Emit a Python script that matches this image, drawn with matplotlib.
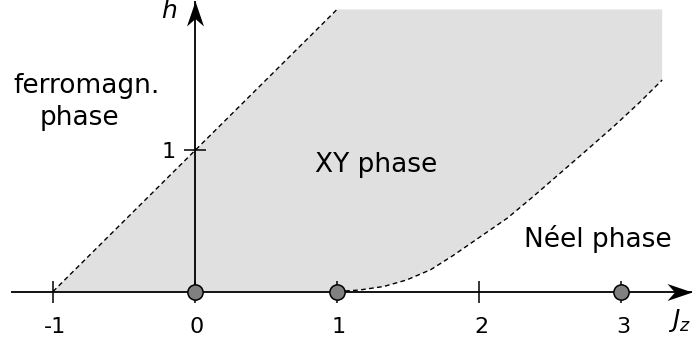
#!/usr/bin/env python3

import numpy
from matplotlib import pyplot
from matplotlib.path import Path


# boundary of the fully polarised (ferromagnetic) phase, h = 1 + Jz
SAT_JZ = [-1.0, 1.0]
SAT_H = [0.0, 2.0]
# upper edge of the shaded XY region
TOP_H = 2.0
TOP_JZ_END = 3.29

# lower critical field, boundary towards the Neel phase
NEEL_JZ = [1.0, 1.16, 1.33, 1.49, 1.66, 1.82, 2.01, 2.20, 2.38, 2.57, 2.76, 2.95, 3.13, 3.29]
NEEL_H = [0.0, 0.011, 0.036, 0.082, 0.155, 0.257, 0.389, 0.521, 0.672, 0.838, 1.004, 1.172, 1.340, 1.50]

# special points on the h = 0 line
DOT_JZ = [0.0, 1.0, 3.0]

XTICKS = [-1, 0, 1, 2, 3]
XTICK_LABELS = ["-1", "0", "1", "2", "3"]
YTICKS = [1]
YTICK_LABELS = ["1"]

XLIM = (-1.373, 3.507)
YLIM = (-0.379, 2.067)
X_AXIS = (-1.296, 3.50)
Y_AXIS = (0.0, 2.06)

FILL_COLOR = "#e0e0e0"
DOT_COLOR = "#808080"


def arrow_marker(direction):
	# tip sits on the marker origin, so the marker is anchored at the tip
	verts = numpy.array([(0, 0), (-1, 0.34), (-0.7, 0), (-1, -0.34), (0, 0)])
	if direction == "up":
		verts = verts[:, ::-1]
	return Path(verts, closed = True)


def draw_axes(ax):
	ax.plot(X_AXIS, [0, 0], color = "black", linewidth = 1.3, zorder = 3,
		solid_capstyle = "butt")
	ax.plot([0, 0], Y_AXIS, color = "black", linewidth = 1.3, zorder = 3,
		solid_capstyle = "butt")
	ax.plot([X_AXIS[1]], [0], marker = arrow_marker("right"), markersize = 36,
		color = "black", markeredgewidth = 0, zorder = 4)
	ax.plot([0], [Y_AXIS[1]], marker = arrow_marker("up"), markersize = 36,
		color = "black", markeredgewidth = 0, zorder = 4)
	# ticks
	ax.plot(XTICKS, numpy.zeros(len(XTICKS)), linestyle = "none", marker = "|",
		markersize = 16, markeredgewidth = 1.1, color = "black", zorder = 3)
	ax.plot(numpy.zeros(len(YTICKS)), YTICKS, linestyle = "none", marker = "_",
		markersize = 16, markeredgewidth = 1.1, color = "black", zorder = 3)
	for x, lab in zip(XTICKS, XTICK_LABELS):
		ax.text(x + 0.014, -0.294, lab, fontsize = 16, ha = "center", va = "baseline")
	for y, lab in zip(YTICKS, YTICK_LABELS):
		ax.text(-0.134, y - 0.053, lab, fontsize = 16, ha = "right", va = "baseline")
	ax.text(-0.183, 1.94, "h", fontsize = 18, style = "italic", ha = "center",
		va = "baseline")
	ax.text(3.331, -0.252, "$J_z$", fontsize = 18, ha = "left", va = "baseline")
	return


def draw_phases(ax):
	# XY region: between the Neel boundary and the saturation line
	px = list(SAT_JZ) + [TOP_JZ_END] + NEEL_JZ[::-1]
	py = list(SAT_H) + [TOP_H] + NEEL_H[::-1]
	ax.fill(px, py, facecolor = FILL_COLOR, edgecolor = "none", zorder = 1)
	dash = dict(color = "black", linewidth = 1.0, dashes = (3.4, 2.4), zorder = 2)
	ax.plot(SAT_JZ, SAT_H, **dash)
	ax.plot(NEEL_JZ, NEEL_H, **dash)
	ax.plot(DOT_JZ, numpy.zeros(len(DOT_JZ)), linestyle = "none", marker = "o",
		markersize = 11, markerfacecolor = DOT_COLOR, markeredgecolor = "black",
		markeredgewidth = 1.1, zorder = 5)
	# phase names
	ax.text(-0.764, 1.411, "ferromagn.", fontsize = 19, ha = "center", va = "baseline")
	ax.text(-0.817, 1.18, "phase", fontsize = 19, ha = "center", va = "baseline")
	ax.text(1.275, 0.844, "XY phase", fontsize = 19, ha = "center", va = "baseline")
	ax.text(2.838, 0.318, "N\u00e9el phase", fontsize = 19, ha = "center", va = "baseline")
	return


def hdl_plot():
	figure = pyplot.figure(figsize = (6.93, 3.45), dpi = 100)
	ax = figure.add_axes([0, 0, 1, 1])
	ax.set_axis_off()
	ax.set_xlim(*XLIM)
	ax.set_ylim(*YLIM)
	draw_phases(ax)
	draw_axes(ax)
	return figure


if __name__ == "__main__":
	figure = hdl_plot()
	figure.savefig("out.png", dpi = 100)
	pyplot.close()
